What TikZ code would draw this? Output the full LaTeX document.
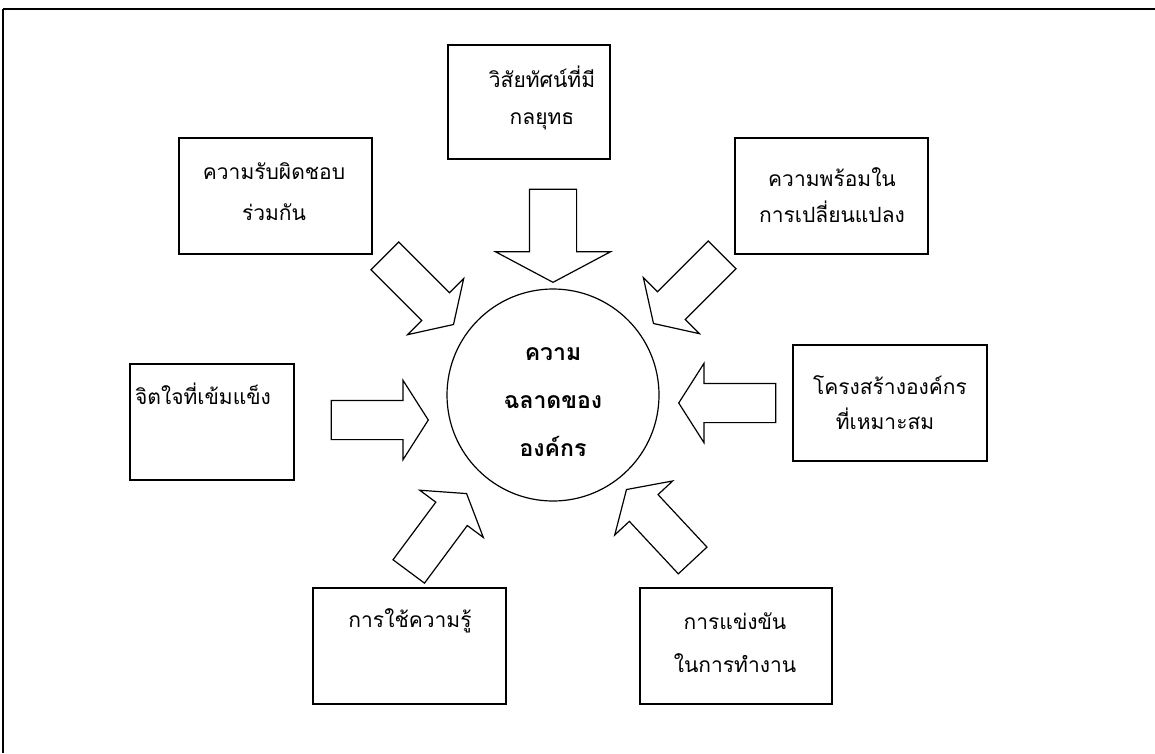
\documentclass[tikz,border=0pt]{standalone}
\usepackage{fontspec}
\setmainfont[Script=Thai]{Loma}
\usetikzlibrary{shapes.arrows}

\tikzset{
  box/.style={draw, line width=1.2pt, rectangle, minimum height=116pt, inner sep=0pt},
  boxtext/.style={font=\fontsize{21}{25}\selectfont, inner sep=0pt, anchor=base},
  hubtext/.style={font=\fontsize{23}{28}\selectfont\bfseries, inner sep=0pt, anchor=base},
  fatarrow/.style={draw, line width=1.2pt, single arrow, inner xsep=0pt, inner ysep=19pt, anchor=tip,
    minimum height=97pt, minimum width=78pt,
    single arrow head extend=20pt, single arrow tip angle=115},
}

\begin{document}
\begin{tikzpicture}[x=1pt, y=-1pt]
	\useasboundingbox (0,0) rectangle (1155,753);
	% frame
	\draw[line width=2pt] (3,9) -- (1155,9);
	\draw[line width=1.2pt] (3,9) -- (3,753);

	% centre
	\node[draw, circle, line width=1.2pt, minimum size=212pt, inner sep=0pt] (Hub) at (553,395) {};
	\node[hubtext] (HubA) at (553,360) {ความ};
	\node[hubtext] (HubB) at (553,408) {ฉลาดของ};
	\node[hubtext] (HubC) at (553,456) {องค์กร};

	% top
	\node[box, minimum width=162pt, minimum height=114pt] (Vision) at (529,102) {};
	\node[boxtext] (VisionA) at (542,87) {วิสัยทัศน์ที่มี};
	\node[boxtext] (VisionB) at (542,124) {กลยุทธ};
	\node[fatarrow, rotate=-90, minimum height=93pt, minimum width=114pt, inner ysep=23pt,
	  single arrow head extend=34pt, single arrow tip angle=124] (VisionArrow) at (553,283) {};

	% top left
	\node[box, minimum width=193pt] (Duty) at (275.5,196) {};
	\node[boxtext] (DutyA) at (274,179) {ความรับผิดชอบ};
	\node[boxtext] (DutyB) at (274,220) {ร่วมกัน};
	\node[fatarrow, rotate=-45] (DutyArrow) at (454,325) {};

	% top right
	\node[box, minimum width=193pt] (Ready) at (831.5,196) {};
	\node[boxtext] (ReadyA) at (832,186) {ความพร้อมใน};
	\node[boxtext] (ReadyB) at (832,222) {การเปลี่ยนแปลง};
	\node[fatarrow, rotate=-135] (ReadyArrow) at (653,324) {};

	% left
	\node[box, minimum width=164pt] (Mind) at (212,422) {};
	\node[boxtext] (MindA) at (203,404) {จิตใจที่เข้มแข็ง};
	\node[fatarrow, rotate=0] (MindArrow) at (429,420) {};

	% right
	\node[box, minimum width=194pt] (Form) at (890,403) {};
	\node[boxtext] (FormA) at (890,394) {โครงสร้างองค์กร};
	\node[boxtext] (FormB) at (885,429) {ที่เหมาะสม};
	\node[fatarrow, rotate=180] (FormArrow) at (678,403) {};

	% bottom left
	\node[box, minimum width=193pt] (Know) at (409.5,646) {};
	\node[boxtext] (KnowA) at (410,627) {การใช้ความรู้};
	\node[fatarrow, rotate=53.4] (KnowArrow) at (467,493) {};

	% bottom right
	\node[box, minimum width=192pt] (Race) at (736,646) {};
	\node[boxtext] (RaceA) at (735,629) {การแข่งขัน};
	\node[boxtext] (RaceB) at (735,672) {ในการทำงาน};
	\node[fatarrow, rotate=133] (RaceArrow) at (626,489) {};
\end{tikzpicture}
\end{document}
